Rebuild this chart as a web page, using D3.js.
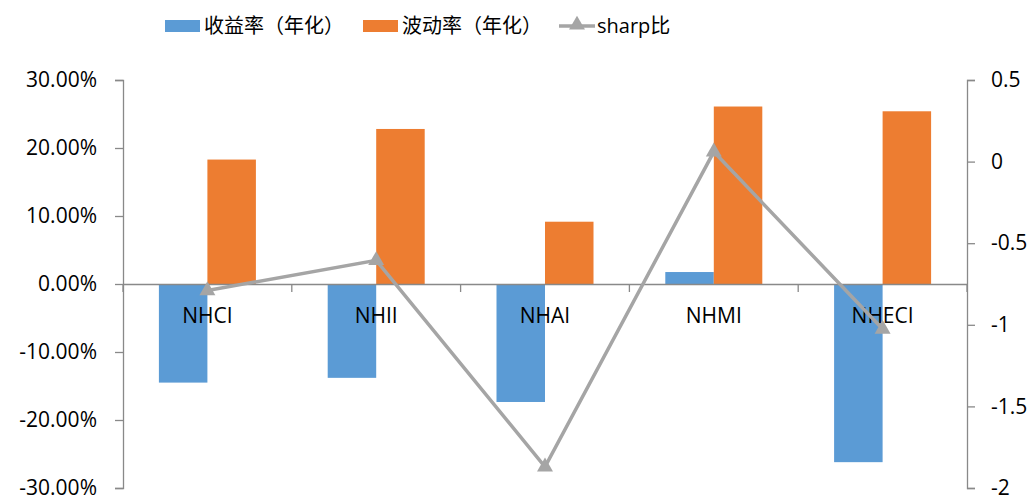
<!DOCTYPE html>
<html><head><meta charset="utf-8">
<script src="https://cdn.jsdelivr.net/npm/d3@7/dist/d3.min.js"></script>
<style>body{margin:0;background:#fff}svg{display:block}text{font-family:"Open Sans","Noto Sans CJK SC",sans-serif}</style>
</head><body><svg id="c" width="1036" height="497"></svg>
<script>
const categories = ["NHCI","NHII","NHAI","NHMI","NHECI"];
const returns = [-0.145, -0.138, -0.1735, 0.0176, -0.262];
const volatility = [0.183, 0.228, 0.0916, 0.261, 0.254];
const sharp = [-0.79, -0.605, -1.87, 0.06, -1.026];
const leftTicks = [-0.3,-0.2,-0.1,0,0.1,0.2,0.3];
const rightTicks = [-2,-1.5,-1,-0.5,0,0.5];
const seriesNames = ["收益率（年化）","波动率（年化）","sharp比"];
const colors = {ret:"#5B9BD5", vol:"#ED7D31", sharp:"#A5A5A5"};

const svg = d3.select("#c");
const L = 123, R = 967, T = 80, B = 488;
const x = d3.scaleBand().domain(categories).range([L,R]).paddingInner(0.425).paddingOuter(0.2125);
const bw = 48.5;
const yL = d3.scaleLinear().domain([-0.3,0.3]).range([B,T]);
const yR = d3.scaleLinear().domain([-2,0.5]).range([B,T]);
const cx = c => x(c) + x.bandwidth()/2;

// bars
svg.append("g").selectAll("rect").data(categories).join("rect")
  .attr("x", c => cx(c) - bw).attr("width", bw)
  .attr("y", (c,i) => yL(Math.max(0,returns[i])))
  .attr("height", (c,i) => Math.abs(yL(returns[i]) - yL(0)))
  .attr("fill", colors.ret);
svg.append("g").selectAll("rect").data(categories).join("rect")
  .attr("x", c => cx(c)).attr("width", bw)
  .attr("y", (c,i) => yL(Math.max(0,volatility[i])))
  .attr("height", (c,i) => Math.abs(yL(volatility[i]) - yL(0)))
  .attr("fill", colors.vol);

// left axis
const axL = svg.append("g").attr("transform",`translate(${L},0)`)
  .call(d3.axisLeft(yL).tickValues(leftTicks).tickSize(8).tickPadding(18));
// right axis
const axR = svg.append("g").attr("transform",`translate(${R},0)`)
  .call(d3.axisRight(yR).tickValues(rightTicks).tickSize(8).tickPadding(16));
[axL,axR].forEach(a=>{
  a.selectAll("path,line").attr("stroke","#898989").attr("stroke-width",1.3);
  a.selectAll("text").attr("font-size",21).attr("fill","#000");
});
axL.selectAll("text").text(d=>d3.format(".2%")(d).replace("−","-"));
axR.selectAll("text").text(d=>String(d));

// zero baseline & category axis
const axX = svg.append("g").attr("transform",`translate(0,${yL(0)})`)
  .call(d3.axisBottom(x).tickSize(0).tickPadding(24));
axX.select("path").attr("stroke","#898989").attr("stroke-width",1.3);
axX.selectAll("text").attr("font-size",21).attr("fill","#000");
axX.selectAll(".cat-tick").data(d3.range(categories.length+1)).join("line")
  .attr("x1",i=>L+i*(R-L)/categories.length).attr("x2",i=>L+i*(R-L)/categories.length)
  .attr("y1",0).attr("y2",8).attr("stroke","#898989").attr("stroke-width",1.3);

// sharp line
const line = d3.line().x((d,i)=>cx(categories[i])).y(d=>yR(d));
svg.append("path").datum(sharp).attr("d",line).attr("fill","none")
  .attr("stroke",colors.sharp).attr("stroke-width",3.5);
const tri = d3.symbol().type(d3.symbolTriangle).size(110);
svg.append("g").selectAll("path").data(sharp).join("path")
  .attr("transform",(d,i)=>`translate(${cx(categories[i])},${yR(d)})`)
  .attr("d",tri).attr("fill",colors.sharp);

// legend
const lg = svg.append("g");
const ly = 26;
lg.append("rect").attr("x",165).attr("y",ly-6).attr("width",35).attr("height",12).attr("fill",colors.ret);
lg.append("text").attr("x",204).attr("y",ly+7).attr("font-size",20).text(seriesNames[0]);
lg.append("rect").attr("x",363).attr("y",ly-6).attr("width",35).attr("height",12).attr("fill",colors.vol);
lg.append("text").attr("x",402).attr("y",ly+7).attr("font-size",20).text(seriesNames[1]);
lg.append("line").attr("x1",559).attr("x2",595).attr("y1",ly).attr("y2",ly).attr("stroke",colors.sharp).attr("stroke-width",3.5);
lg.append("path").attr("transform",`translate(577,${ly-1})`).attr("d",tri).attr("fill",colors.sharp);
lg.append("text").attr("x",597).attr("y",ly+7).attr("font-size",20).text(seriesNames[2]);
</script></body></html>
